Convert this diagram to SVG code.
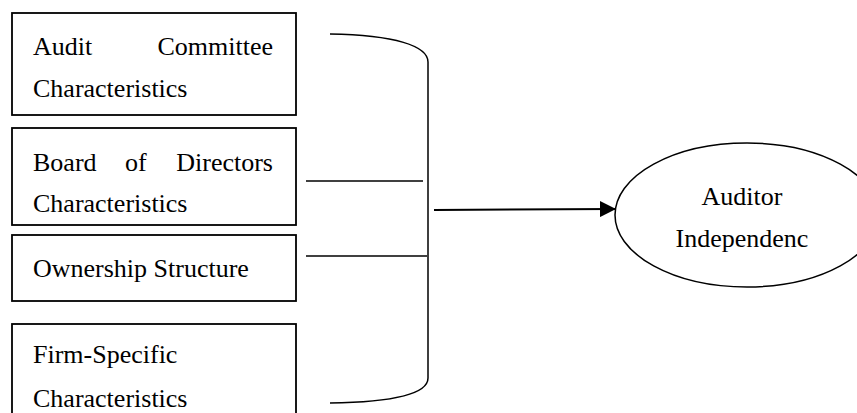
<svg xmlns="http://www.w3.org/2000/svg" width="857" height="413" viewBox="0 0 857 413">
<style>
.box{fill:#fff;stroke:#000;stroke-width:1.8}
.t{font-family:"Liberation Serif","Times New Roman",serif;font-size:26px;fill:#000}
.ln{fill:none;stroke:#000;stroke-width:1.5}
</style>
<defs>
<marker id="ah" markerWidth="16" markerHeight="16" viewBox="0 0 16 16" refX="15" refY="8" orient="auto" markerUnits="userSpaceOnUse">
<path d="M0,0 L16,8 L0,16 Z" fill="#000"/>
</marker>
</defs>
<rect width="857" height="413" fill="#fff"/>
<g id="audit-committee">
<rect class="box" x="12" y="13" width="284" height="102"/>
<text class="t" x="33" y="55">Audit</text>
<text class="t" x="273" y="55" text-anchor="end">Committee</text>
<text class="t" x="33" y="97">Characteristics</text>
</g>
<g id="board-of-directors">
<rect class="box" x="12" y="128" width="284" height="97"/>
<text class="t" x="33" y="171">Board</text>
<text class="t" x="125" y="171">of</text>
<text class="t" x="273" y="171" text-anchor="end">Directors</text>
<text class="t" x="33" y="212">Characteristics</text>
</g>
<g id="ownership-structure">
<rect class="box" x="12" y="235" width="284" height="66"/>
<text class="t" x="33" y="277">Ownership Structure</text>
</g>
<g id="firm-specific">
<rect class="box" x="12" y="324" width="284" height="100"/>
<text class="t" x="33" y="363">Firm-Specific</text>
<text class="t" x="33" y="407">Characteristics</text>
</g>
<g id="auditor-independence">
<ellipse cx="747" cy="215" rx="132" ry="72" fill="#fff" stroke="#000" stroke-width="1.5"/>
<text class="t" x="742" y="205" text-anchor="middle">Auditor</text>
<text class="t" x="742" y="247" text-anchor="middle">Independenc</text>
</g>
<g id="connectors">
<path class="ln" d="M330,34 C395,35 428,46 428,62 L428,378 C428,394 395,402 330,403"/>
<line class="ln" x1="306" y1="181" x2="423" y2="181"/>
<line class="ln" x1="306" y1="256" x2="427" y2="256"/>
<line x1="434" y1="210" x2="615" y2="209" stroke="#000" stroke-width="2" marker-end="url(#ah)"/>
</g>
</svg>
